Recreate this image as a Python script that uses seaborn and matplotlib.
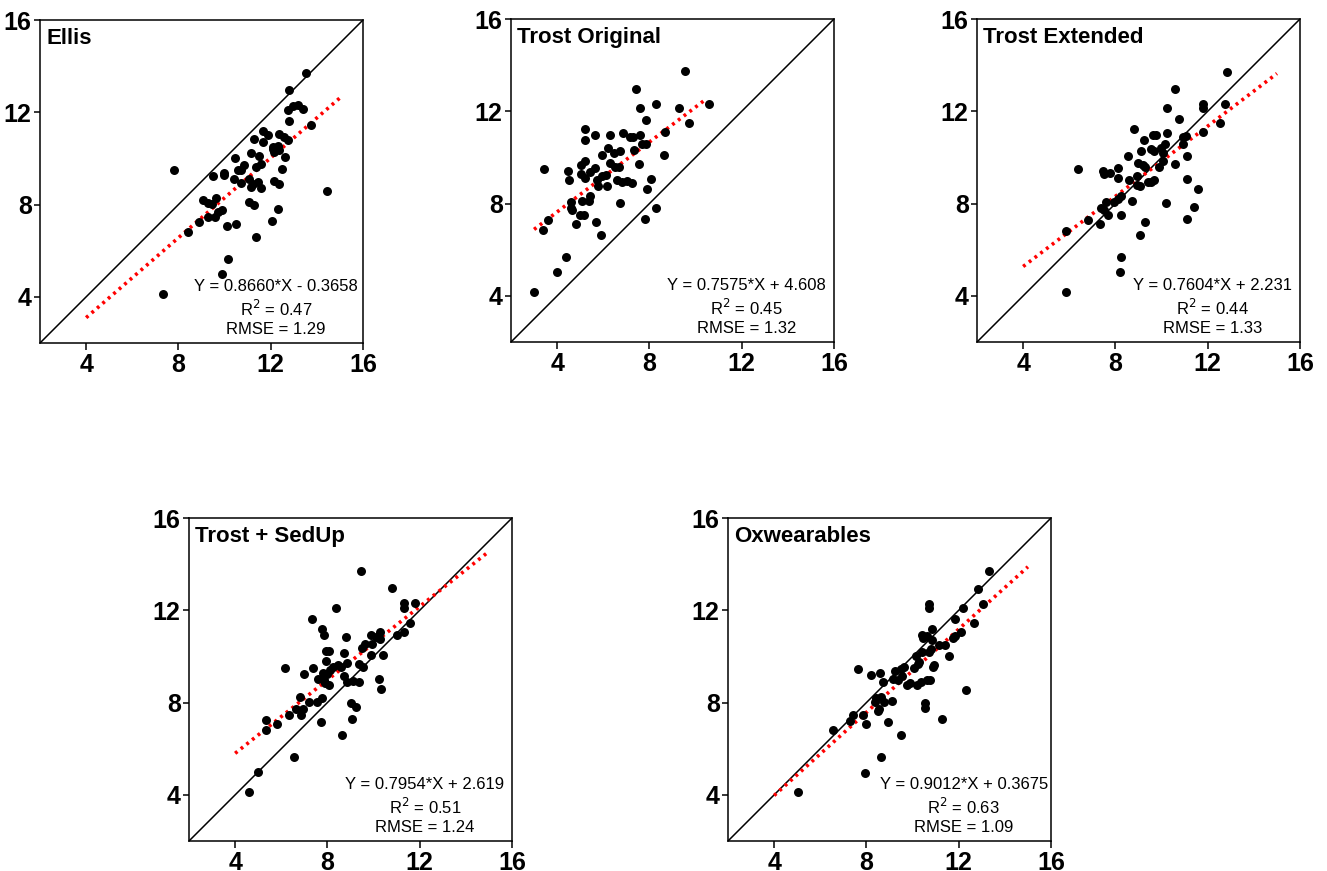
import matplotlib
matplotlib.use('Agg')
import matplotlib.pyplot as plt
import seaborn as sns
import numpy as np

# ── data ─────────────────────────────────────────────────────────────────────
ELLIS_X = [13.52, 12.80, 12.95, 13.20, 13.38, 12.77, 13.75, 12.80, 11.65, 11.87,
           11.29, 11.65, 12.37, 12.59, 12.73, 12.08, 12.30, 12.15, 12.34, 12.10,
           12.61, 11.15, 11.48, 10.47, 10.86, 10.57, 10.71, 11.36, 11.58, 12.51,
           9.49, 9.99, 9.99, 10.42, 10.71, 11.07, 11.22, 11.43, 11.58, 11.15,
           12.15, 12.37, 7.80, 14.46, 9.06, 9.28, 9.46, 9.63, 11.07, 11.29,
           9.28, 9.57, 9.71, 9.89, 12.30, 8.91, 10.11, 10.50, 12.05, 8.41,
           11.36, 10.14, 9.88, 7.33]
ELLIS_Y = [13.71, 12.95, 12.28, 12.31, 12.13, 12.08, 11.45, 11.61, 11.17, 11.00,
           10.86, 10.71, 11.05, 10.93, 10.81, 10.50, 10.54, 10.28, 10.35, 10.40,
           10.05, 10.24, 10.12, 10.04, 9.73, 9.49, 9.49, 9.63, 9.78, 9.53,
           9.23, 9.37, 9.27, 9.13, 8.94, 9.13, 8.87, 8.99, 8.70, 8.77,
           9.01, 8.87, 9.48, 8.57, 8.19, 8.05, 8.02, 8.27, 8.09, 7.98,
           7.47, 7.47, 7.66, 7.76, 7.79, 7.23, 7.07, 7.16, 7.29, 6.80,
           6.58, 5.66, 4.98, 4.13]

TROST_ORIG_X = [9.54, 7.40, 8.30, 10.57, 9.30, 7.61, 7.87, 9.70, 5.19, 8.68,
                5.65, 6.31, 6.85, 7.58, 7.17, 7.30, 5.19, 7.68, 7.87, 7.31,
                6.20, 6.72, 6.46, 5.95, 8.61, 6.31, 7.56, 5.19, 5.04, 5.65,
                6.50, 6.68, 3.45, 4.47, 5.41, 5.05, 5.19, 5.73, 5.95, 6.10,
                4.53, 6.60, 6.82, 7.04, 7.23, 8.08, 5.78, 6.17, 7.91, 5.44,
                5.37, 5.08, 4.61, 6.71, 8.30, 4.61, 4.64, 5.01, 5.18, 3.60,
                5.67, 4.80, 7.81, 3.38, 5.89, 4.40, 4.00, 2.99]
TROST_ORIG_Y = [13.73, 12.98, 12.33, 12.33, 12.15, 12.15, 11.64, 11.48, 11.25, 11.11,
                10.99, 10.99, 11.08, 10.99, 10.87, 10.87, 10.76, 10.60, 10.60, 10.32,
                10.39, 10.28, 10.18, 10.09, 10.09, 9.77, 9.71, 9.84, 9.67, 9.55,
                9.60, 9.60, 9.51, 9.42, 9.36, 9.30, 9.09, 9.04, 9.19, 9.22,
                9.04, 9.00, 8.93, 8.97, 8.90, 9.06, 8.75, 8.78, 8.61, 8.32,
                8.10, 8.13, 8.07, 8.03, 7.82, 7.81, 7.71, 7.52, 7.49, 7.27,
                7.20, 7.11, 7.34, 6.84, 6.62, 5.67, 5.02, 4.16]

TROST_EXT_X = [12.84, 10.60, 11.79, 12.76, 11.79, 10.23, 10.75, 12.52, 8.79, 11.79,
               10.24, 9.62, 9.78, 9.25, 10.92, 11.05, 10.17, 10.92, 9.54, 9.66,
               9.11, 9.98, 8.56, 11.10, 10.05, 10.05, 10.59, 8.96, 9.18, 9.30,
               9.91, 6.37, 7.44, 8.09, 7.51, 7.77, 8.12, 8.57, 8.93, 9.08,
               9.40, 9.54, 9.69, 8.92, 11.10, 11.60, 8.24, 8.09, 7.61, 8.72,
               10.21, 7.95, 7.37, 7.51, 7.69, 8.24, 11.39, 6.79, 7.32, 9.27,
               11.12, 5.86, 9.05, 8.25, 8.18, 5.86]
TROST_EXT_Y = [13.72, 12.97, 12.31, 12.31, 12.14, 12.14, 11.65, 11.49, 11.24, 11.11,
               11.07, 10.98, 10.99, 10.76, 10.88, 10.95, 10.60, 10.60, 10.37, 10.27,
               10.30, 10.41, 10.08, 10.08, 10.20, 9.83, 9.72, 9.76, 9.66, 9.57,
               9.57, 9.50, 9.43, 9.54, 9.27, 9.34, 9.09, 9.04, 9.20, 8.78,
               8.92, 8.92, 9.04, 8.82, 9.07, 8.62, 8.31, 8.19, 8.08, 8.12,
               8.02, 8.05, 7.80, 7.70, 7.51, 7.51, 7.83, 7.27, 7.12, 7.21,
               7.34, 6.83, 6.63, 5.70, 5.02, 4.18]

SEDUP_X = [9.46, 10.82, 11.34, 11.78, 11.30, 8.36, 7.32, 11.59, 7.76, 11.30,
           11.02, 7.84, 8.80, 9.88, 10.26, 10.10, 10.26, 9.64, 9.93, 9.52,
           7.93, 8.05, 8.70, 9.91, 10.39, 7.94, 8.84, 9.35, 9.56, 6.17,
           7.36, 8.23, 8.44, 8.58, 7.00, 7.79, 7.97, 8.12, 7.61, 7.83,
           7.90, 8.05, 8.70, 8.84, 9.09, 9.35, 10.22, 10.33, 6.80, 7.22,
           7.54, 7.76, 9.03, 9.23, 6.63, 6.96, 6.32, 6.86, 5.33, 5.83,
           7.73, 9.06, 5.33, 8.62, 6.53, 4.98, 4.62]
SEDUP_Y = [13.72, 12.95, 12.30, 12.30, 12.12, 12.12, 11.62, 11.46, 11.21, 11.07,
           10.95, 10.95, 10.84, 10.95, 11.05, 10.85, 10.75, 10.56, 10.53, 10.35,
           10.23, 10.24, 10.13, 10.06, 10.06, 9.80, 9.72, 9.67, 9.55, 9.48,
           9.52, 9.55, 9.62, 9.55, 9.22, 9.30, 9.26, 9.41, 9.04, 9.00,
           8.83, 8.75, 9.16, 8.90, 8.94, 8.87, 9.03, 8.58, 8.25, 8.03,
           8.03, 8.18, 8.00, 7.79, 7.70, 7.74, 7.48, 7.48, 7.24, 7.06,
           7.16, 7.29, 6.80, 6.58, 5.64, 4.97, 4.13]

OXW_X = [13.33, 12.82, 10.73, 13.07, 10.73, 12.17, 11.86, 12.65, 10.85, 12.12,
         11.86, 11.74, 10.41, 10.44, 10.63, 10.83, 11.16, 11.42, 10.80, 10.41,
         10.70, 10.15, 11.57, 10.23, 10.30, 10.08, 10.92, 10.88, 7.63, 9.65,
         9.48, 9.26, 8.58, 8.21, 9.53, 9.14, 9.36, 8.71, 9.91, 9.75,
         10.20, 10.37, 10.63, 10.76, 12.32, 8.42, 8.61, 8.38, 8.75, 9.10,
         10.54, 8.54, 8.48, 10.52, 7.85, 7.41, 7.30, 8.00, 8.93, 11.28,
         6.55, 9.52, 8.65, 7.95, 5.03]
OXW_Y = [13.69, 12.93, 12.28, 12.28, 12.10, 12.10, 11.61, 11.44, 11.19, 11.05,
         10.90, 10.80, 10.95, 10.80, 10.90, 10.72, 10.51, 10.51, 10.33, 10.18,
         10.18, 10.04, 10.04, 9.68, 9.75, 9.50, 9.65, 9.53, 9.46, 9.53,
         9.46, 9.39, 9.27, 9.20, 9.14, 9.03, 8.98, 8.91, 8.84, 8.74,
         8.74, 8.88, 9.00, 9.00, 8.55, 8.19, 8.24, 8.02, 8.02, 8.06,
         7.98, 7.73, 7.63, 7.77, 7.44, 7.47, 7.22, 7.08, 7.15, 7.28,
         6.79, 6.58, 5.64, 4.96, 4.12]

TITLES = ['Ellis', 'Trost Original', 'Trost Extended', 'Trost + SedUp', 'Oxwearables']
SLOPES = [0.8660, 0.7575, 0.7604, 0.7954, 0.9012]
INTERCEPTS = [-0.3658, 4.608, 2.231, 2.619, 0.3675]
EQUATIONS = ['Y = 0.8660*X - 0.3658', 'Y = 0.7575*X + 4.608', 'Y = 0.7604*X + 2.231',
             'Y = 0.7954*X + 2.619', 'Y = 0.9012*X + 0.3675']
R2 = ['0.47', '0.45', '0.44', '0.51', '0.63']
RMSE = ['1.29', '1.32', '1.33', '1.24', '1.09']
FIT_RANGES = [(4, 15), (3, 10.45), (4, 15), (4, 15), (4, 15)]
TICKS = [4, 8, 12, 16]

PANELS = [(ELLIS_X, ELLIS_Y), (TROST_ORIG_X, TROST_ORIG_Y), (TROST_EXT_X, TROST_EXT_Y),
          (SEDUP_X, SEDUP_Y), (OXW_X, OXW_Y)]

# axes rectangles (left, bottom) in reference pixels
W, H = 1327, 871
RECTS = [(40, 343), (511, 342), (977, 342), (189, 841), (728, 841)]

sns.set_style('ticks')
plt.rcParams['font.family'] = ['Liberation Sans', 'DejaVu Sans']
plt.rcParams.update({'text.color': 'black', 'axes.edgecolor': 'black',
                     'xtick.color': 'black', 'ytick.color': 'black',
                     'axes.labelcolor': 'black'})

fig = plt.figure(figsize=(13.27, 8.71), dpi=100)

for i, ((xs, ys), (left, bottom)) in enumerate(zip(PANELS, RECTS)):
    ax = fig.add_axes([left / W, (H - bottom) / H, 323 / W, 323 / H])

    # identity line
    ax.plot([2, 16], [2, 16], color='black', lw=1.1, zorder=1)

    # regression line
    x0, x1 = FIT_RANGES[i]
    fx = np.array([x0, x1])
    ax.plot(fx, SLOPES[i] * fx + INTERCEPTS[i], color='#ff0000', lw=2.6,
            linestyle=(0, (0.8, 1.2)), zorder=2)

    sns.scatterplot(x=xs, y=ys, ax=ax, color='black', s=42, linewidth=0, zorder=3)

    ax.set_xlim(2, 16)
    ax.set_ylim(2, 16)
    ax.set_xticks(TICKS)
    ax.set_yticks(TICKS)
    for lab in ax.get_xticklabels() + ax.get_yticklabels():
        lab.set_fontweight('bold')
        lab.set_fontsize(18)
    ax.tick_params(axis='x', length=5, width=1.1, pad=2)
    ax.tick_params(axis='y', length=4, width=1.1, pad=2)
    for sp in ax.spines.values():
        sp.set_linewidth(1.1)
        sp.set_visible(True)

    ax.text(0.02, 0.975, TITLES[i], transform=ax.transAxes, ha='left', va='top',
            fontsize=16, fontweight='bold')
    ax.text(0.73, 0.02, f'{EQUATIONS[i]}\nR$^2$ = {R2[i]}\nRMSE = {RMSE[i]}',
            transform=ax.transAxes, ha='center', va='bottom', multialignment='center',
            fontsize=12, linespacing=1.25)

plt.savefig('out.png', dpi=100)
